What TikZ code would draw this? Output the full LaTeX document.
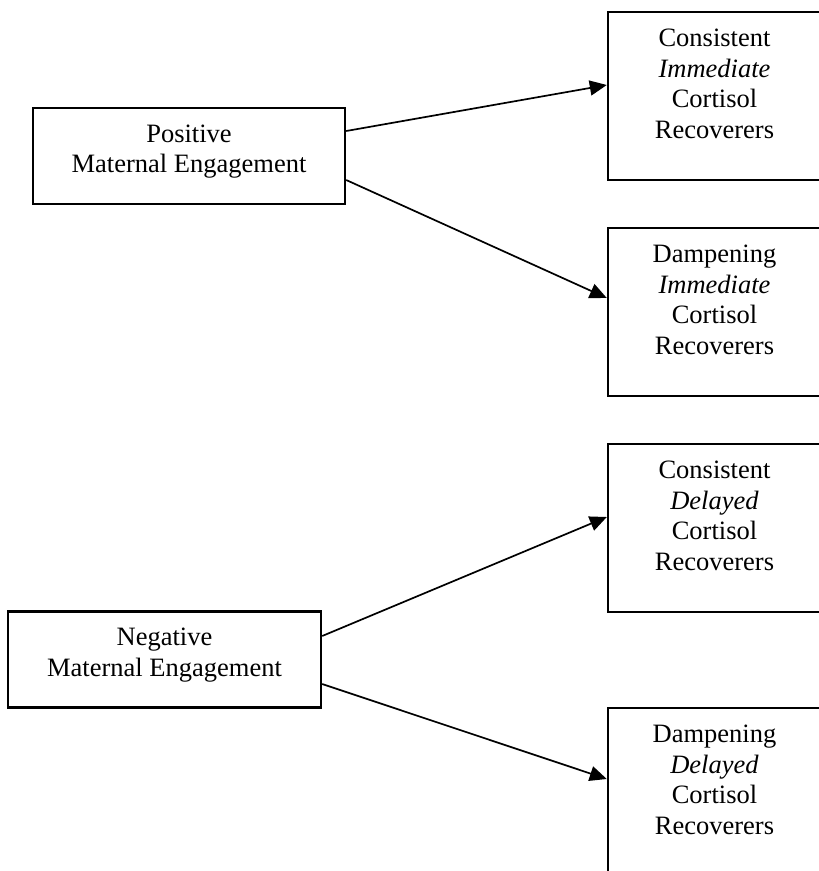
\documentclass[tikz,border=0pt]{standalone}
\usepackage{fontspec}
\setmainfont{Liberation Serif}
\usetikzlibrary{arrows.meta}

\begin{document}
\begin{tikzpicture}[x=1pt,y=-1pt,
  box/.style={draw, line width=2.4pt, rectangle, inner sep=0pt},
  srcbox/.style={box, minimum height=96pt},
  outbox/.style={box, minimum width=213pt, minimum height=168pt},
  label/.style={anchor=north, inner sep=0pt, align=center,
    font=\fontsize{26.5}{30.5}\selectfont},
  link/.style={line width=1.7pt, -{Triangle[length=17pt,width=15pt]}}]

\useasboundingbox (0,0) rectangle (819,871);

% source boxes
\node[srcbox, minimum width=312pt] (pos) at (189,156) {};
\node[srcbox, minimum width=313pt] (neg) at (164.5,659.5) {};

% outcome boxes (right edge runs past the page)
\node[outbox] (ci) at (714.5,96)  {};
\node[outbox] (di) at (714.5,312) {};
\node[outbox] (cd) at (714.5,528) {};
\node[outbox] (dd) at (714.5,792) {};

% box texts, first baseline 34pt below the top edge
\node[label] at ([yshift=-15pt]pos.north) {\rule{0pt}{20pt}Positive\\Maternal Engagement};
\node[label] at ([yshift=-15pt]neg.north) {\rule{0pt}{20pt}Negative\\Maternal Engagement};
\node[label] at ([yshift=-15.5pt]ci.north) {\rule{0pt}{20pt}Consistent\\\textit{Immediate}\\Cortisol\\Recoverers};
\node[label] at ([yshift=-15.5pt]di.north) {\rule{0pt}{20pt}Dampening\\\textit{Immediate}\\Cortisol\\Recoverers};
\node[label] at ([yshift=-15.5pt]cd.north) {\rule{0pt}{20pt}Consistent\\\textit{Delayed}\\Cortisol\\Recoverers};
\node[label] at ([yshift=-15.5pt]dd.north) {\rule{0pt}{20pt}Dampening\\\textit{Delayed}\\Cortisol\\Recoverers};

% connectors
\draw[link] ([yshift=25pt]pos.east)  -- ([yshift=11pt]ci.west);
\draw[link] ([yshift=-24pt]pos.east) -- ([yshift=14pt]di.west);
\draw[link] ([yshift=23.5pt]neg.east)  -- ([yshift=11pt]cd.west);
\draw[link] ([yshift=-24.5pt]neg.east) -- ([yshift=13pt]dd.west);
\end{tikzpicture}
\end{document}
